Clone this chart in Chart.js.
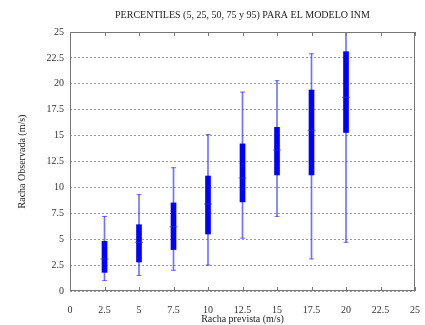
<!DOCTYPE html>
<html>
<head>
<meta charset="utf-8">
<script src="https://cdn.jsdelivr.net/npm/chart.js@4/dist/chart.umd.min.js"></script>
<style>
  html, body { margin: 0; padding: 0; background: #fff; }
  #wrap { width: 425px; height: 325px; }
</style>
</head>
<body>
<div id="wrap"><canvas id="myChart" width="425" height="325"></canvas></div>
<script>
// wind gust forecast (x) vs observed percentiles
var forecast = [2.5, 5, 7.5, 10, 12.5, 15, 17.5, 20];
var p5  = [1.0, 1.5, 2.0, 2.5, 5.1, 7.2, 3.1, 4.7];
var p25 = [1.8, 2.8, 4.0, 5.5, 8.6, 11.2, 11.2, 15.3];
var p50 = [3.1, 4.7, 6.2, 8.4, 10.9, 13.6, 15.5, 18.7];
var p75 = [4.8, 6.4, 8.5, 11.1, 14.2, 15.8, 19.4, 23.1];
var p95 = [7.2, 9.3, 11.9, 15.1, 19.2, 20.3, 22.9, 25.0];
var tickValues = [0, 2.5, 5, 7.5, 10, 12.5, 15, 17.5, 20, 22.5, 25];

var serif = 'Liberation Serif';
var blue = '#0000ff';
var lightBlue = 'rgba(40, 40, 255, 0.65)';

function pairs(lo, hi) {
    return forecast.map(function (x, i) { return { x: x, y: [lo[i], hi[i]] }; });
}
function points(vals) {
    return forecast.map(function (x, i) { return { x: x, y: vals[i] }; });
}
function fixTicks(scale) {
    scale.ticks = tickValues.map(function (v) { return { value: v }; });
}

// frame around the plot plus inward ticks on the x axis (matlab style)
var frame = {
    id: 'frame',
    afterDatasetsDraw: function (chart) {
        var a = chart.chartArea, c = chart.ctx, xs = chart.scales.x;
        c.save();
        c.strokeStyle = '#777';
        c.lineWidth = 1;
        c.strokeRect(a.left + 0.5, a.top + 0.5, a.right - a.left - 1, a.bottom - a.top - 1);
        c.beginPath();
        tickValues.forEach(function (v) {
            var px = Math.round(xs.getPixelForValue(v)) + 0.5;
            c.moveTo(px, a.top); c.lineTo(px, a.top + 4);
            c.moveTo(px, a.bottom); c.lineTo(px, a.bottom - 4);
        });
        c.stroke();
        c.restore();
    }
};

var ctx = document.getElementById('myChart').getContext('2d');
var chart = new Chart(ctx, {
    type: 'bar',
    data: {
        datasets: [{
            // 5-95 whiskers
            data: pairs(p5, p95),
            backgroundColor: lightBlue,
            barThickness: 1,
            grouped: false,
            order: 3
        }, {
            // 25-75 box
            data: pairs(p25, p75),
            backgroundColor: blue,
            barThickness: 5,
            grouped: false,
            order: 2
        }, {
            type: 'scatter',
            data: points(p5).concat(points(p95)),
            pointStyle: 'line',
            pointRadius: 2.5,
            borderColor: lightBlue,
            pointBorderWidth: 1,
            order: 1
        }, {
            type: 'scatter',
            data: points(p50),
            pointStyle: 'line',
            pointRadius: 4,
            borderColor: lightBlue,
            pointBorderWidth: 1,
            order: 0
        }]
    },
    plugins: [frame],
    options: {
        responsive: false,
        animation: false,
        layout: { padding: { left: 0, right: 7, top: 0, bottom: 0 } },
        plugins: {
            legend: { display: false },
            tooltip: { enabled: false },
            title: {
                display: true,
                fullSize: false,
                text: 'PERCENTILES (5, 25, 50, 75 y 95) PARA EL MODELO INM',
                color: '#222',
                font: { family: serif, size: 10, weight: 'normal' },
                padding: { top: 9, bottom: 11 }
            }
        },
        scales: {
            x: {
                type: 'linear',
                min: 0,
                max: 25,
                offset: false,
                afterBuildTicks: fixTicks,
                afterFit: function (s) { s.height = 34; },
                grid: { display: false },
                border: { display: false },
                ticks: { color: '#333', font: { family: serif, size: 10 }, padding: 5, maxRotation: 0, autoSkip: false },
                title: {
                    display: true,
                    text: 'Racha prevista (m/s)',
                    color: '#222',
                    font: { family: serif, size: 10 },
                    padding: { top: 0, bottom: 0 }
                }
            },
            y: {
                min: 0,
                max: 25,
                afterBuildTicks: fixTicks,
                afterFit: function (s) { s.width = 70; },
                grid: { color: '#999', drawTicks: false },
                border: { display: false, dash: [2, 2] },
                ticks: { color: '#333', font: { family: serif, size: 10 }, padding: 6 },
                title: {
                    display: true,
                    text: 'Racha Observada (m/s)',
                    color: '#222',
                    font: { family: serif, size: 10 },
                    padding: { top: 16, bottom: 0 }
                }
            }
        }
    }
});
</script>
</body>
</html>
